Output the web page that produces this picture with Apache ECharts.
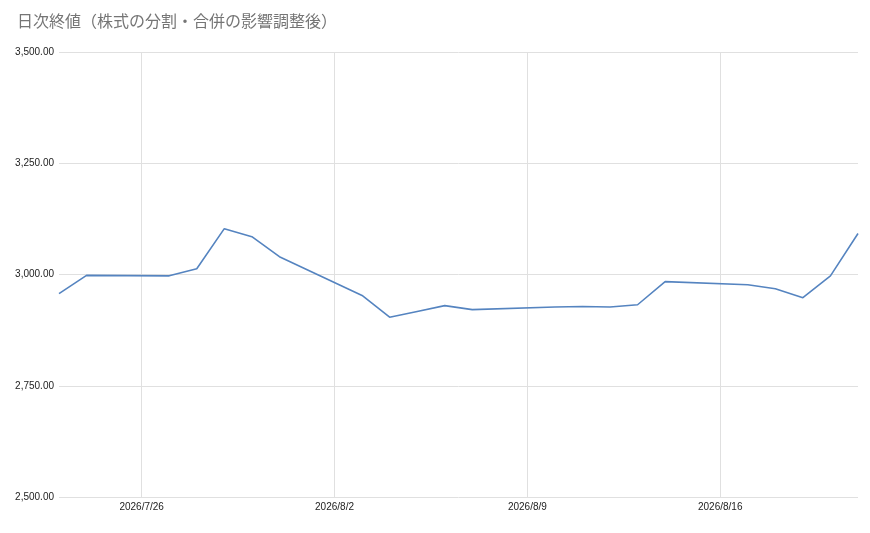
<!DOCTYPE html>
<html>
<head>
<meta charset="utf-8">
<script src="https://cdn.jsdelivr.net/npm/echarts@6/dist/echarts.min.js"></script>
<style>
html,body{margin:0;padding:0;background:#fff;}
#chart{width:870px;height:533px;}
</style>
</head>
<body>
<div id="chart"></div>
<script>
var titleText = '日次終値（株式の分割・合併の影響調整後）';
var dates = ['2026-07-23','2026-07-24','2026-07-27','2026-07-28','2026-07-29','2026-07-30','2026-07-31',
  '2026-08-03','2026-08-04','2026-08-05','2026-08-06','2026-08-07',
  '2026-08-10','2026-08-11','2026-08-12','2026-08-13','2026-08-14',
  '2026-08-17','2026-08-18','2026-08-19','2026-08-20','2026-08-21'];
var closes = [2957, 2998, 2997, 3013, 3103, 3085, 3040,
  2953, 2904, 2917, 2930, 2921,
  2927, 2928, 2927, 2932, 2984,
  2977, 2968, 2948, 2997, 3092];
var tickDates = ['2026-07-26','2026-08-02','2026-08-09','2026-08-16'];
var tickLabels = ['2026/7/26','2026/8/2','2026/8/9','2026/8/16'];
var xMin = '2026-07-23';
var xMax = '2026-08-21';
var yMin = 2500, yMax = 3500, yStep = 250;

var chart = echarts.init(document.getElementById('chart'));
var seriesData = dates.map(function(d, i){ return [d, closes[i]]; });
var gridLines = tickDates.map(function(d, i){
  return { xAxis: d, label: { formatter: tickLabels[i] } };
});
chart.setOption({
  animation: false,
  textStyle: { fontFamily: 'Arial, "Liberation Sans", "Noto Sans CJK JP", sans-serif' },
  title: {
    text: titleText,
    left: 12, top: 8,
    textStyle: { fontSize: 16, fontWeight: 'normal', color: '#757575', fontFamily: '"Noto Sans CJK JP", sans-serif' }
  },
  grid: { left: 59, right: 12, top: 52, bottom: 36, containLabel: false },
  xAxis: {
    type: 'time', min: xMin, max: xMax,
    axisLine: { show: false }, axisTick: { show: false },
    axisLabel: { show: false }, splitLine: { show: false }
  },
  yAxis: {
    type: 'value', min: yMin, max: yMax, interval: yStep,
    axisLine: { show: false }, axisTick: { show: false },
    axisLabel: {
      fontSize: 10, color: '#222', margin: 5,
      formatter: function(v){ return v.toLocaleString('en-US', {minimumFractionDigits: 2, maximumFractionDigits: 2}); }
    },
    splitLine: { lineStyle: { color: '#e0e0e0', width: 1 } }
  },
  series: [{
    type: 'line',
    data: seriesData,
    showSymbol: false,
    lineStyle: { color: '#5584c0', width: 1.6 },
    itemStyle: { color: '#5584c0' },
    z: 3,
    markLine: {
      silent: true,
      symbol: ['none', 'none'],
      z: 1,
      animation: false,
      lineStyle: { color: '#e0e0e0', width: 1, type: 'solid' },
      label: { position: 'start', fontSize: 10, color: '#222', distance: 5 },
      emphasis: { disabled: true },
      data: gridLines
    }
  }]
});
</script>
</body>
</html>
